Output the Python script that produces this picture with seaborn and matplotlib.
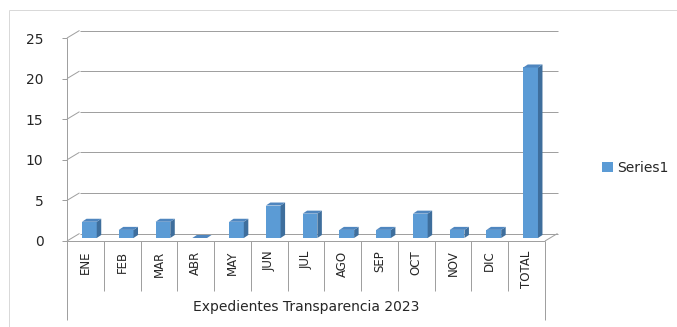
import matplotlib
matplotlib.use("Agg")
import matplotlib.pyplot as plt
from matplotlib.lines import Line2D
from matplotlib.patches import Polygon, Patch
from matplotlib.transforms import Affine2D, IdentityTransform
import seaborn as sns
import pandas as pd

# Monthly file counts and the yearly total
categories = ["ENE", "FEB", "MAR", "ABR", "MAY", "JUN", "JUL",
              "AGO", "SEP", "OCT", "NOV", "DIC", "TOTAL"]
values = [2, 1, 2, 0, 2, 4, 3, 1, 1, 3, 1, 1, 21]
y_ticks = [0, 5, 10, 15, 20, 25]
series_name = "Series1"
axis_title = "Expedientes Transparencia 2023"

FRONT = "#5B9BD5"
SIDE = "#3E6E9C"
TOP = "#4F86BF"
GRID = "#A0A0A0"
TEXT = "#262626"

W, H = 677, 327
sns.set_theme(style="white")
plt.rcParams["font.family"] = ["DejaVu Sans"]

fig = plt.figure(figsize=(W / 100, H / 100), dpi=100)
fig.patch.set_facecolor("white")

# front plane of the 3D box, in pixels (origin bottom-left)
x_left, x_right = 67, 545
y_zero, y_top = H - 241, H - 38
ax = fig.add_axes([x_left / W, y_zero / H, (x_right - x_left) / W, (y_top - y_zero) / H])
ax.set_facecolor("none")
ax.set_zorder(2)

df = pd.DataFrame({"mes": categories, "n": values})
sns.barplot(data=df, x="mes", y="n", color=FRONT, width=0.4, saturation=1,
            ax=ax, zorder=3)
ax.set_xlim(-0.5, len(categories) - 0.5)
ax.set_ylim(0, 25)
ax.set_yticks(y_ticks)
ax.set_xlabel("")
ax.set_ylabel("")
for s in ax.spines.values():
    s.set_visible(False)
ax.grid(False)
ax.tick_params(axis="y", length=0, pad=17, labelsize=10, labelcolor=TEXT)
ax.tick_params(axis="x", length=0, pad=7, labelsize=8.5, labelcolor=TEXT)
plt.setp(ax.get_xticklabels(), rotation=90, va="top", ha="center")

ident = IdentityTransform()
depth_x, depth_y = 12.5, 7.5       # depth of the box walls
bar_dx, bar_dy = 4.0, 3.0          # bars stand a little behind the front
face_dx, face_dy = 4.5, 3.0        # bar thickness


def line(xs, ys, color=GRID, lw=1.0, z=1):
    fig.add_artist(Line2D(xs, ys, transform=ident, color=color,
                          linewidth=lw * 0.72, zorder=z, solid_capstyle="butt"))


fig.canvas.draw()
to_px = ax.transData

# wall gridlines with their diagonal to the front axis
for v in y_ticks:
    _, yf = to_px.transform((0, v))
    line([x_left - 5, x_left], [yf, yf])
    line([x_left, x_left + depth_x], [yf, yf + depth_y])
    line([x_left + depth_x, x_right + depth_x], [yf + depth_y, yf + depth_y])

# floor edges
line([x_left, x_right], [y_zero, y_zero])
line([x_right, x_right + depth_x], [y_zero, y_zero + depth_y])
# front value axis, running down through the category table
line([x_left, x_left], [y_top, H - 320])
line([x_right, x_right], [y_zero, H - 320])
# category cell dividers
n = len(categories)
for i in range(1, n):
    xb = to_px.transform((i - 0.5, 0))[0]
    line([xb, xb], [y_zero, H - 291])

# 3D faces for each bar
shift = Affine2D().translate(bar_dx, bar_dy)
for p in ax.patches:
    p.set_transform(ax.transData + shift)
    p.set_clip_on(False)
    p.set_edgecolor("none")
    (x0, y0), (x1, y1) = (ax.transData + shift).transform(
        [(p.get_x(), p.get_y()), (p.get_x() + p.get_width(), p.get_y() + p.get_height())])
    side = Polygon([(x1, y0), (x1 + face_dx, y0 + face_dy),
                    (x1 + face_dx, y1 + face_dy), (x1, y1)],
                   closed=True, transform=ident, facecolor=SIDE, edgecolor="none", zorder=4)
    top = Polygon([(x0, y1), (x0 + face_dx, y1 + face_dy),
                   (x1 + face_dx, y1 + face_dy), (x1, y1)],
                  closed=True, transform=ident, facecolor=TOP, edgecolor="none", zorder=4)
    fig.add_artist(side)
    fig.add_artist(top)

# category axis title
fig.text((x_left + x_right) / 2 / W, (H - 307) / H, axis_title,
         ha="center", va="center", fontsize=10, color=TEXT)

# legend
fig.legend(handles=[Patch(facecolor=FRONT, edgecolor="none", label=series_name)],
           loc="center left", bbox_to_anchor=(596 / W, (H - 168) / H),
           frameon=False, fontsize=10, handlelength=0.8, handleheight=0.8,
           handletextpad=0.35, borderaxespad=0, labelcolor=TEXT)

# outer chart frame (top and left edges)
line([9, W], [H - 10, H - 10], color="#D9D9D9")
line([9, 9], [H - 10, 0], color="#D9D9D9")

fig.savefig("out.png", dpi=100)
